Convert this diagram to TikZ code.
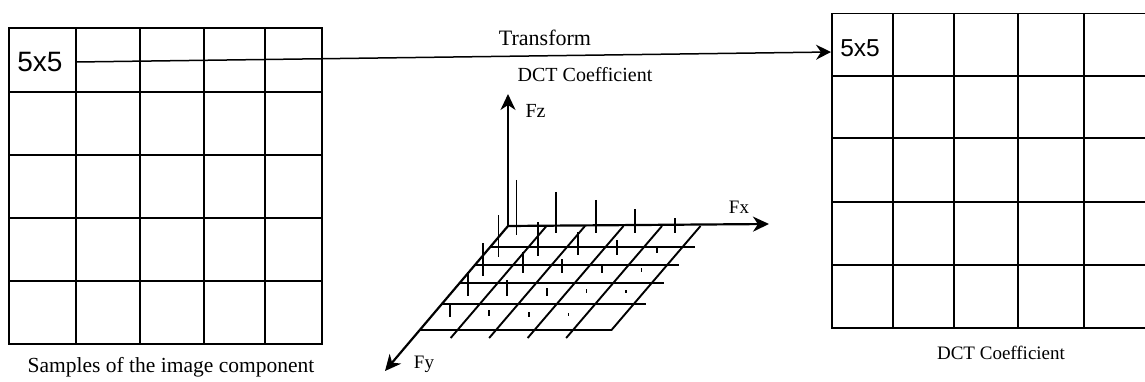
\documentclass[tikz,border=0pt]{standalone}
\usepackage{fontspec}
\setmainfont{Liberation Serif}
\newfontfamily\arialfont{Liberation Sans}
\usetikzlibrary{arrows.meta}
\newcommand\fsz[1]{\fontsize{#1}{#1}\selectfont}
\begin{document}
\begin{tikzpicture}[x=1pt,y=-1pt,
  gridline/.style={line width=1.8pt, line cap=rect},
  planeline/.style={line width=1.9pt},
  axisline/.style={line width=2.2pt},
  spike/.style={line width=1.8pt},
  bigtip/.style={-{Stealth[length=16pt,width=15pt,inset=5pt]}},
  lbl/.style={inner sep=0pt, anchor=base},
]
\useasboundingbox (0,0) rectangle (1145,382);
\clip (0,0) rectangle (1145,382);

% left grid (samples)
\foreach \x in {9,76,140,204,265,322} \draw[gridline] (\x,28) -- (\x,344);
\foreach \y in {28,92,155,218,281,344} \draw[gridline] (9,\y) -- (322,\y);
\node[lbl, font=\arialfont\fsz{28}] (lab5a) at (40,72) {5x5};
\node[lbl, font=\fsz{21.5}] (samples) at (171,372) {Samples of the image component};

% right grid (coefficients)
\foreach \x in {832,893,954,1018,1084,1148} \draw[gridline] (\x,13.5) -- (\x,328);
\foreach \y in {13.5,76,138,202,265,328} \draw[gridline] (832,\y) -- (1150,\y);
\node[lbl, font=\arialfont\fsz{24.5}] (lab5b) at (860,57) {5x5};
\node[lbl, font=\fsz{19}] (dctb) at (1001,359) {DCT Coefficient};

% transform arrow
\coordinate (src) at (76,62);
\coordinate (dst) at (831,52);
\draw[line width=1.5pt, -{Stealth[length=15pt,width=15pt,inset=5pt]}] (src) -- (dst);
\node[lbl, font=\fsz{22}] (transform) at (545,46) {Transform};
\node[lbl, font=\fsz{20}] (dcta) at (585,82) {DCT Coefficient};

% 3D axes
\coordinate (O) at (508,226);
\coordinate (fz) at (508,94);
\coordinate (fx) at (769,224);
\coordinate (fy) at (385,371);
\draw[axisline, bigtip] (O) -- (fz);
\draw[axisline, bigtip] (O) -- (fx);
\draw[axisline, bigtip] (O) -- (fy);
\node[lbl, font=\fsz{20}] (fzl) at (535.5,118) {Fz};
\node[lbl, font=\fsz{19}] (fxl) at (739,213) {Fx};
\node[lbl, font=\fsz{19}] (fyl) at (424,368) {Fy};

% frequency plane
\foreach \i in {1,...,4}
  \draw[planeline] ({508+38.5*\i},226) -- ({508+38.5*\i-95.85},338);
\draw[planeline] (700.5,226) -- (611.5,330);
\foreach \y in {247,265,283,304}
  \draw[planeline] ({508-0.8558*(\y-226)},\y) -- ({508-0.8558*(\y-226)+204.5},\y);
\draw[planeline] (419,330) -- (611.5,330);

% coefficient spikes
\foreach \yy/\i/\t/\b in {
  226/0/-46/9, 226/1/-34/7, 226/2/-26/7, 226/3/-17/7, 226/4/-8/7,
  247/0/-32/10, 247/1/-25/9, 247/2/-15/8, 247/3/-7/8, 247/4/-1/6,
  265/0/-22/11, 265/1/-13/8, 265/2/-6/8, 265/3/1/8, 265/4/3/7,
  283/0/-11/13, 283/1/-3/13, 283/2/5/13, 283/3/6/10, 283/4/7/10,
  304/0/-1/13, 304/1/6/12, 304/2/8/13, 304/3/9/12}
  \draw[spike] ({508-0.8558*(\yy-226)+39.6*\i+8.5},{\yy+\t}) -- ({508-0.8558*(\yy-226)+39.6*\i+8.5},{\yy+\b});
\end{tikzpicture}
\end{document}
